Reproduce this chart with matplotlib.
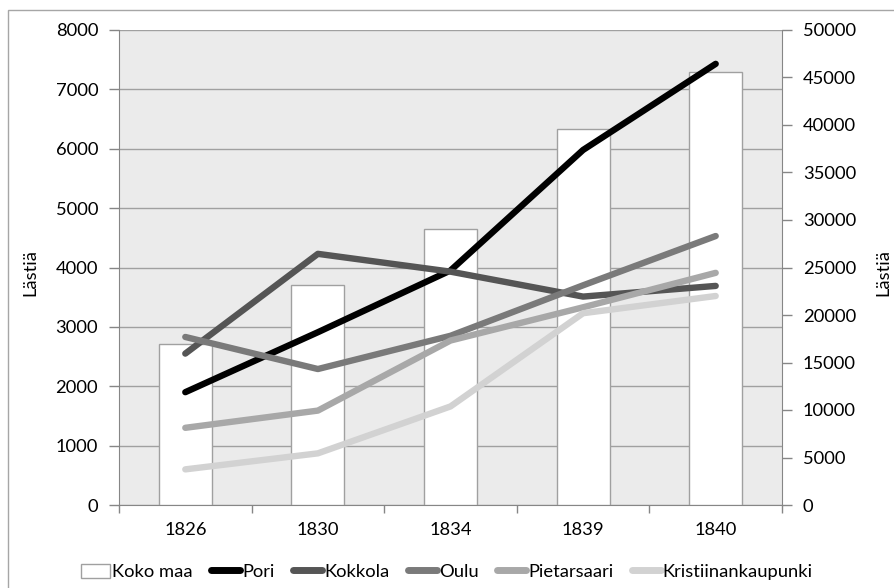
import matplotlib
matplotlib.use("Agg")
import matplotlib.pyplot as plt
from matplotlib.patches import Rectangle, Patch
from matplotlib.lines import Line2D
import numpy as np

plt.rcParams['font.family'] = ['Lato', 'DejaVu Sans']

years = ["1826", "1830", "1834", "1839", "1840"]
koko_maa = [17000, 23150, 29100, 39550, 45600]
pori = [1900, 2910, 3950, 5980, 7430]
kokkola = [2550, 4230, 3930, 3510, 3690]
oulu = [2830, 2290, 2850, 3700, 4530]
pietarsaari = [1300, 1590, 2770, 3330, 3910]
kristiinankaupunki = [600, 870, 1660, 3230, 3520]

line_series = [
    ("Pori", pori, "#000000"),
    ("Kokkola", kokkola, "#555555"),
    ("Oulu", oulu, "#7A7A7A"),
    ("Pietarsaari", pietarsaari, "#A8A8A8"),
    ("Kristiinankaupunki", kristiinankaupunki, "#D2D2D2"),
]

FS = 13.2
W, H = 894, 588
fig = plt.figure(figsize=(W / 100, H / 100), dpi=100)

# outer frame
fig.patches.append(Rectangle((8 / W, -0.05), 1.2, 1 - 10 / H + 0.05, transform=fig.transFigure,
                             fill=False, edgecolor="#A6A6A6", linewidth=1.0))

pos = [119 / W, (H - 505) / H, (782 - 119) / W, (505 - 30) / H]
ax = fig.add_axes(pos)
ax.set_facecolor("#EBEBEB")
x = np.arange(len(years))
ax.set_xlim(-0.5, len(years) - 0.5)
ax.set_ylim(0, 8000)
ax.set_yticks(np.arange(0, 8001, 1000))
ax.yaxis.grid(True, color="#A0A0A0", linewidth=1.0)
ax.set_axisbelow(True)
ax.set_xticks(x)
ax.set_xticklabels(years)
ax.set_xticks(np.arange(-0.5, len(years), 1.0), minor=True)
ax.tick_params(axis="x", which="major", length=0, pad=12, labelsize=FS)
ax.tick_params(axis="x", which="minor", length=6, color="#868686", width=1)
ax.tick_params(axis="y", length=7, color="#868686", width=1, labelsize=FS, pad=8)
for s in ["left", "bottom"]:
    ax.spines[s].set_color("#868686")
ax.spines["top"].set_visible(False)
ax.spines["right"].set_visible(False)

ax2 = ax.twinx()
ax2.set_ylim(0, 50000)
ax2.set_yticks(np.arange(0, 50001, 5000))
ax2.bar(x, koko_maa, width=0.4, color="white", edgecolor="#A0A0A0", linewidth=1.0, zorder=2)
ax2.tick_params(axis="y", length=7, color="#868686", width=1, labelsize=FS, pad=8)
ax2.spines["right"].set_color("#868686")
for s in ["left", "top", "bottom"]:
    ax2.spines[s].set_visible(False)
ax2.patch.set_visible(False)

ax3 = fig.add_axes(pos, sharex=ax, sharey=ax)
ax3.patch.set_visible(False)
ax3.axis("off")
for name, vals, col in line_series:
    ax3.plot(x, vals, color=col, linewidth=4.6, solid_capstyle="round", solid_joinstyle="round")

fig.text(30 / W, 1 - 272 / H, "Lästiä", rotation=90, ha="center", va="center", fontsize=FS)
fig.text(883 / W, 1 - 272 / H, "Lästiä", rotation=90, ha="center", va="center", fontsize=FS)

handles = [Patch(facecolor="white", edgecolor="#A0A0A0", linewidth=1.0, label="Koko maa")]
for name, vals, col in line_series:
    handles.append(Line2D([0], [0], color=col, linewidth=5, solid_capstyle="round", label=name))
fig.legend(handles=handles, loc="center", bbox_to_anchor=(0.5, 1 - 572 / H), ncol=6,
           frameon=False, fontsize=FS, handlelength=1.6, handleheight=0.8, handletextpad=0.1,
           columnspacing=1.0, borderaxespad=0)

fig.savefig("out.png", dpi=100)
